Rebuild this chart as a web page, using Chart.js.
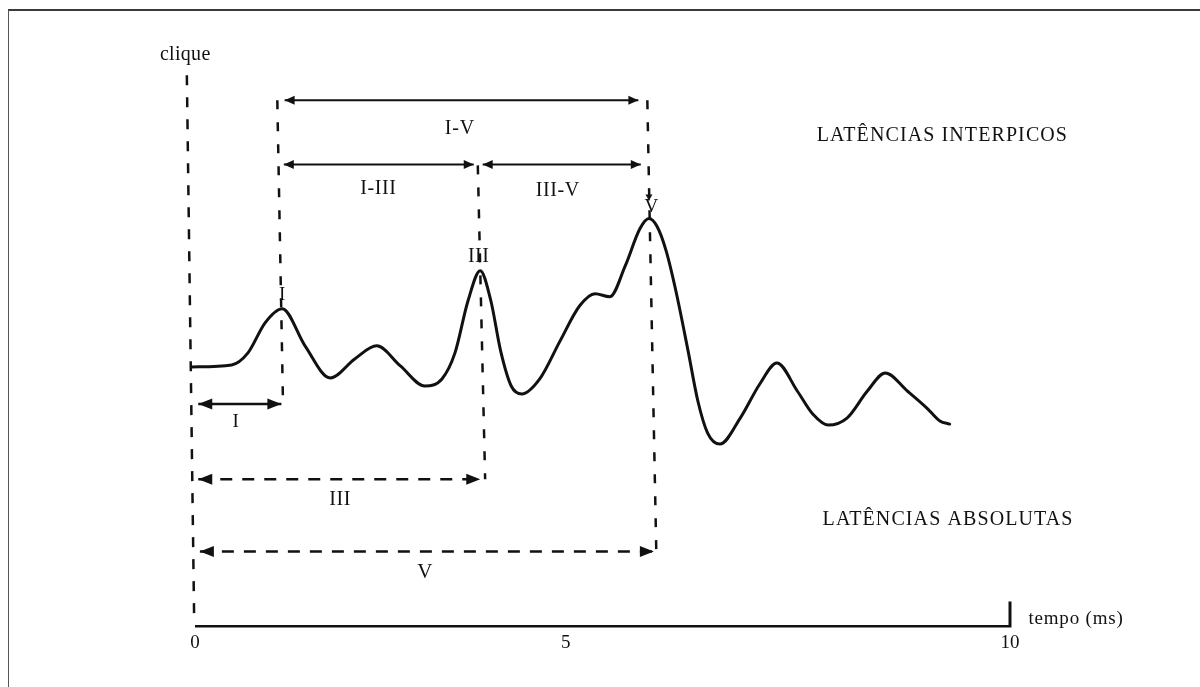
<!DOCTYPE html>
<html lang="pt">
<head>
<meta charset="utf-8">
<title>Latências do PEATE</title>
<script src="https://cdn.jsdelivr.net/npm/chart.js@4.4.1/dist/chart.umd.min.js"></script>
<style>
  html, body { margin: 0; padding: 0; background: #fff; }
  #wrap { position: relative; width: 1200px; height: 687px; overflow: hidden; }
  #frame { position: absolute; left: 8px; top: 9px; width: 1200px; height: 700px;
           border-top: 2px solid #3a3a3a; border-left: 1.5px solid #555; box-sizing: border-box; }
  canvas { position: absolute; left: 0; top: 0; }
</style>
</head>
<body>
<div id="wrap">
  <div id="frame"></div>
  <canvas id="abr" width="1200" height="687"></canvas>
</div>
<script>
// Waveform: time (ms) and relative amplitude
const curveTime = [-0.04, 0.45, 0.65, 0.86, 1.07, 1.35, 1.66, 1.96, 2.23, 2.52, 2.82, 3.03, 3.19, 3.35, 3.50,
  3.63, 3.75, 3.88, 4.01, 4.23, 4.48, 4.72, 4.91, 5.09, 5.28, 5.46, 5.57, 5.67, 5.78, 5.90, 6.05, 6.17, 6.29, 6.44,
  6.69, 6.93, 7.14, 7.39, 7.58, 7.77, 8.00, 8.25, 8.47, 8.74, 8.98, 9.14, 9.26];
const curveAmp = [0.00, 0.02, 0.14, 0.44, 0.58, 0.21, -0.11, 0.08, 0.21, 0.01, -0.19, -0.12, 0.14, 0.66, 0.96,
  0.66, 0.16, -0.19, -0.27, -0.12, 0.26, 0.61, 0.73, 0.70, 1.01, 1.38, 1.48, 1.40, 1.16, 0.76, 0.16, -0.34, -0.66, -0.77,
  -0.51, -0.17, 0.04, -0.24, -0.47, -0.58, -0.51, -0.24, -0.06, -0.24, -0.41, -0.54, -0.57];

// Stimulus (clique) marker: [time, amplitude] at top and bottom
const cliqueLine = [[-0.10, 2.91], [-0.01, -2.54]];

// Peaks I, III, V: dashed guides from the interpeak arrows down to the absolute arrows
const peakNames = ['I', 'III', 'V'];
const peakGuideTop = [[1.01, 2.66], [3.47, 2.01], [5.55, 2.66]];
const peakGuideBottom = [[1.08, -0.37], [3.56, -1.12], [5.66, -1.84]];
// Small pointer above wave V: [time, amplitude] start and end
const peakVPointer = [[5.57, 1.78], [5.57, 1.66]];

// Interpeak latency arrows: [from, to, level]  (I-V, I-III, III-V)
const interpeakArrows = [[1.10, 5.44, 2.66], [1.09, 3.42, 2.02], [3.53, 5.47, 2.02]];
// Absolute latency arrows: [from, to, level]  (I, III, V)
const absoluteArrows = [[0.04, 1.06, -0.37], [0.04, 3.50, -1.12], [0.06, 5.63, -1.84]];

// Time axis
const axisSpan = [0, 10];
const axisLevel = -2.59;
const axisEndTick = -2.34;
const xTickValues = [0, 4.55, 10];
const xTickLabels = ['0', '5', '10'];

// Text labels: text, time, amplitude, font size, letter spacing
const labelTexts = ['clique', 'I-V', 'I-III', 'III-V', 'V', 'III', 'I', 'I', 'III', 'V',
  'LATÊNCIAS INTERPICOS', 'LATÊNCIAS ABSOLUTAS', 'tempo (ms)'];
const labelTimes = [-0.12, 3.25, 2.25, 4.45, 5.60, 3.48, 1.07, 0.50, 1.78, 2.82, 9.17, 9.24, 10.81];
const labelAmps = [3.11, 2.38, 1.78, 1.76, 1.59, 1.10, 0.72, -0.55, -1.32, -2.05, 2.31, -1.52, -2.51];
const labelSizes = [20, 20, 20, 20, 19, 20, 19, 19, 20, 21, 20, 20, 19];
const labelSpacing = [0.3, 0.8, 0.6, 0.6, 0, 0.5, 0, 0, 0.5, 0, 1.1, 1.1, 0.8];

const INK = '#111';
const SERIF = '"Liberation Serif", "DejaVu Serif", serif';

function seg(a, b) { return [{ x: a[0], y: a[1] }, { x: b[0], y: b[1] }]; }

const datasets = [];

datasets.push({
  data: curveTime.map((t, i) => ({ x: t, y: curveAmp[i] })),
  borderColor: INK, borderWidth: 3, cubicInterpolationMode: 'monotone',
  pointRadius: 0, borderCapStyle: 'round', borderJoinStyle: 'round'
});

datasets.push({
  data: seg(cliqueLine[0], cliqueLine[1]),
  borderColor: INK, borderWidth: 2.5, borderDash: [10, 12], pointRadius: 0
});

peakNames.forEach((_, i) => {
  datasets.push({
    data: seg(peakGuideTop[i], peakGuideBottom[i]),
    borderColor: INK, borderWidth: 2.5, borderDash: [9, 13], pointRadius: 0
  });
});

datasets.push({
  data: seg(peakVPointer[0], peakVPointer[1]),
  borderColor: INK, borderWidth: 1.3, pointRadius: 0,
  arrowHeads: { len: 6, half: 3.5, ends: 'end' }
});

interpeakArrows.forEach(a => {
  datasets.push({
    data: [{ x: a[0], y: a[2] }, { x: a[1], y: a[2] }],
    borderColor: INK, borderWidth: 2, pointRadius: 0, arrowHeads: { len: 10, half: 4.5, ends: 'both' }
  });
});

absoluteArrows.forEach((a, i) => {
  datasets.push({
    data: [{ x: a[0], y: a[2] }, { x: a[1], y: a[2] }],
    borderColor: INK, borderWidth: 2.5, pointRadius: 0,
    borderDash: i === 0 ? [] : [12, 10],
    arrowHeads: { len: 14, half: 5.5, ends: 'both' }
  });
});

datasets.push({
  data: [{ x: axisSpan[0], y: axisLevel }, { x: axisSpan[1], y: axisLevel }, { x: axisSpan[1], y: axisEndTick }],
  borderColor: INK, borderWidth: 3, pointRadius: 0, tension: 0
});

// Arrowheads at the ends of the flagged line datasets
const arrowPlugin = {
  id: 'arrowHeads',
  afterDatasetsDraw(chart) {
    const ctx = chart.ctx;
    chart.data.datasets.forEach((ds, i) => {
      if (!ds.arrowHeads) return;
      const pts = chart.getDatasetMeta(i).data;
      const ends = [];
      if (ds.arrowHeads.ends !== 'end') ends.push([pts[0], pts[1]]);
      ends.push([pts[pts.length - 1], pts[pts.length - 2]]);
      ctx.save();
      ctx.fillStyle = INK;
      ends.forEach(([tip, from]) => {
        const ang = Math.atan2(tip.y - from.y, tip.x - from.x);
        const { len, half } = ds.arrowHeads;
        ctx.beginPath();
        ctx.moveTo(tip.x, tip.y);
        ctx.lineTo(tip.x - len * Math.cos(ang) + half * Math.sin(ang), tip.y - len * Math.sin(ang) - half * Math.cos(ang));
        ctx.lineTo(tip.x - len * Math.cos(ang) - half * Math.sin(ang), tip.y - len * Math.sin(ang) + half * Math.cos(ang));
        ctx.closePath();
        ctx.fill();
      });
      ctx.restore();
    });
  }
};

// Text annotations placed in data coordinates
const textPlugin = {
  id: 'texts',
  afterDatasetsDraw(chart) {
    const ctx = chart.ctx;
    const xs = chart.scales.x, ys = chart.scales.y;
    ctx.save();
    ctx.fillStyle = INK;
    ctx.textAlign = 'center';
    ctx.textBaseline = 'middle';
    labelTexts.forEach((txt, i) => {
      ctx.font = labelSizes[i] + 'px ' + SERIF;
      ctx.letterSpacing = labelSpacing[i] + 'px';
      ctx.fillText(txt, xs.getPixelForValue(labelTimes[i]), ys.getPixelForValue(labelAmps[i]));
    });
    ctx.restore();
  }
};

new Chart(document.getElementById('abr'), {
  type: 'line',
  data: { datasets },
  options: {
    responsive: false,
    animation: false,
    layout: { padding: { left: 15.7, right: 10.7, top: 10, bottom: 28.6 } },
    plugins: { legend: { display: false }, tooltip: { enabled: false } },
    scales: {
      x: {
        type: 'linear', min: -2.2, max: 12.2,
        grid: { display: false, drawTicks: false },
        border: { display: false },
        afterBuildTicks(scale) { scale.ticks = xTickValues.map(v => ({ value: v })); },
        ticks: {
          padding: 4,
          color: INK,
          font: { family: SERIF, size: 19 },
          callback(value) {
            const i = xTickValues.indexOf(value);
            return i >= 0 ? xTickLabels[i] : '';
          }
        }
      },
      y: { type: 'linear', min: -2.60, max: 3.56, display: false }
    }
  },
  plugins: [arrowPlugin, textPlugin]
});
</script>
</body>
</html>
